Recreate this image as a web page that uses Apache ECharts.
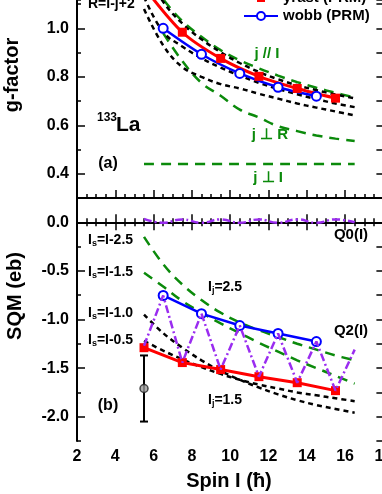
<!DOCTYPE html>
<html><head><meta charset="utf-8">
<script src="https://cdn.jsdelivr.net/npm/echarts@6/dist/echarts.min.js"></script>
<style>html,body{margin:0;padding:0;background:#fff}#c{width:382px;height:494px}</style>
</head><body><div id="c"></div>
<script>
// ---------- data ----------
const spins      = [5.5,6.5,7.5,8.5,9.5,10.5,11.5,12.5,13.5,14.5,15.5,16.5];
const spinsFrom65= [6.5,7.5,8.5,9.5,10.5,11.5,12.5,13.5,14.5,15.5,16.5];
const spinsOdd   = [5.5,7.5,9.5,11.5,13.5,15.5];
const spinsEven  = [6.5,8.5,10.5,12.5,14.5];
const xTickLabels = ['2','4','6','8','10','12','14','16','18'];

// (a) g-factor
const gYrast  = [1.17,0.984,0.876,0.802,0.752,0.712];
const gWobb   = [1.0,0.893,0.814,0.757,0.72];
const gJparI  = [1.23,1.12,1.03,0.965,0.91,0.868,0.835,0.805,0.778,0.755,0.734,0.715];
const gJperpR = [0.98,0.865,0.775,0.722,0.665,0.632,0.596,0.576,0.558,0.545,0.535];
const gJperpI = [0.44,0.44,0.44,0.44,0.44,0.44,0.44,0.44,0.44,0.44,0.44,0.44];
const gR2     = [1.25,1.11,1.02,0.955,0.902,0.857,0.82,0.79,0.765,0.745,0.727,0.711];
const gR1     = [1.13,0.985,0.925,0.877,0.838,0.805,0.775,0.75,0.728,0.708,0.69,0.675];
const gR0     = [1.08,0.93,0.84,0.80,0.77,0.752,0.73,0.71,0.69,0.673,0.657,0.641];

// (b) SQM
const sqmYrast = [-1.29,-1.443,-1.515,-1.588,-1.65,-1.732];
const sqmWobb  = [-0.753,-0.94,-1.062,-1.144,-1.227];
const sqmQ2    = [-1.27,-0.753,-1.443,-0.94,-1.515,-1.062,-1.588,-1.144,-1.65,-1.227,-1.732,-1.31];
const sqmQ0    = [0.035,-0.005,0.03,-0.005,0.03,-0.005,0.03,-0.005,0.03,-0.005,0.03,0.0];
const sqmIs25  = [-0.15,-0.43,-0.64,-0.80,-0.93,-1.03,-1.11,-1.18,-1.25,-1.31,-1.37,-1.42];
const sqmIs15  = [-0.52,-0.66,-0.81,-0.93,-1.04,-1.14,-1.24,-1.33,-1.42,-1.50,-1.58,-1.66];
const sqmIs10  = [-0.95,-1.14,-1.29,-1.42,-1.53,-1.62,-1.70,-1.77,-1.83,-1.88,-1.92,-1.96];
const sqmIs05  = [-1.22,-1.32,-1.41,-1.49,-1.56,-1.62,-1.67,-1.71,-1.75,-1.78,-1.81,-1.84];
const expSpin  = [5.5];
const expSQM   = [-1.71];
const expHi    = [-1.37];
const expLo    = [-2.05];

// ---------- helpers ----------
const FONT = '"Liberation Sans", Arial, sans-serif';
const pair = (xs, ys) => xs.map((x,i)=>[x, ys[i]]);
const GREEN = '#0b8a0b', RED = '#ff0000', BLUE = '#0000ff', PURPLE = '#9a2cf0';

function dashed(name, xs, ys, color, dash, xi, yi) {
  return {type:'line', name, xAxisIndex:xi, yAxisIndex:yi, data:pair(xs,ys), smooth:0.4,
    symbol:'none', lineStyle:{color, width:2.5, type:dash}, silent:true, z:2};
}

const xBase = {min:2, max:18, interval:2, splitLine:{show:false},
  axisLine:{lineStyle:{color:'#000', width:2}},
  axisTick:{inside:true, length:8, lineStyle:{color:'#000', width:1.5}},
  minorTick:{show:true, splitNumber:4, length:4, lineStyle:{color:'#000', width:1.5}},
  axisLabel:{show:false}};

function fmt1(step){ return v => (Math.abs(v/step - Math.round(v/step))<1e-6) ? v.toFixed(1) : ''; }

const option = {
  animation:false,
  backgroundColor:'#fff',
  grid:[
    {left:77, width:306.4, top:0, height:198, outerBoundsMode:'none', containLabel:false},
    {left:77, width:306.4, top:198, height:243, outerBoundsMode:'none', containLabel:false}
  ],
  legend:{
    data:['yrast (PRM)','wobb (PRM)'], orient:'vertical', left:243, top:-10, padding:0,
    itemWidth:34, itemHeight:10, itemGap:2,
    textStyle:{fontFamily:FONT, fontSize:15, fontWeight:'bold', color:'#000', lineHeight:16}
  },
  xAxis:[
    Object.assign({}, xBase, {gridIndex:0, position:'bottom'}),
    Object.assign({}, xBase, {gridIndex:1, position:'bottom',
      axisLabel:{show:true, margin:8, color:'#000', fontFamily:FONT, fontSize:16, fontWeight:'bold',
        formatter: v => xTickLabels[Math.round((v-2)/2)] }}),
    Object.assign({}, xBase, {gridIndex:1, position:'top'})
  ],
  yAxis:[
    {gridIndex:0, position:'left', min:0.3, max:1.117, minInterval:0.2, maxInterval:0.2,
      splitLine:{show:false}, axisLine:{show:true, lineStyle:{color:'#000', width:2}},
      axisTick:{inside:true, length:8, lineStyle:{color:'#000', width:1.5}},
      axisLabel:{margin:8, color:'#000', fontFamily:FONT, fontSize:16, fontWeight:'bold',
        showMinLabel:false, showMaxLabel:false, formatter: fmt1(0.2)}},
    {gridIndex:0, position:'left', min:0.3, max:1.117, interval:0.1,
      splitLine:{show:false}, axisLine:{show:false}, axisLabel:{show:false},
      axisTick:{inside:true, length:4, lineStyle:{color:'#000', width:1.5}}},
    {gridIndex:0, position:'right', min:0.3, max:1.117, interval:0.1,
      splitLine:{show:false}, axisLine:{show:true, lineStyle:{color:'#000', width:2}}, axisLabel:{show:false},
      axisTick:{inside:true, length:7, lineStyle:{color:'#000', width:1.5}}},
    {gridIndex:1, position:'left', min:-2.25, max:0.25, minInterval:0.5, maxInterval:0.5,
      splitLine:{show:false}, axisLine:{show:true, onZero:false, lineStyle:{color:'#000', width:2}},
      axisTick:{inside:true, length:8, lineStyle:{color:'#000', width:1.5}},
      axisLabel:{margin:8, color:'#000', fontFamily:FONT, fontSize:16, fontWeight:'bold',
        showMinLabel:false, showMaxLabel:false, formatter: fmt1(0.5)}},
    {gridIndex:1, position:'left', min:-2.25, max:0.25, interval:0.25,
      splitLine:{show:false}, axisLine:{show:false}, axisLabel:{show:false},
      axisTick:{inside:true, length:4, lineStyle:{color:'#000', width:1.5}}},
    {gridIndex:1, position:'right', min:-2.25, max:0.25, interval:0.25,
      splitLine:{show:false}, axisLine:{show:true, lineStyle:{color:'#000', width:2}}, axisLabel:{show:false},
      axisTick:{inside:true, length:7, lineStyle:{color:'#000', width:1.5}}}
  ],
  series:[
    dashed('j//I', spins, gJparI, GREEN, [10,7], 0, 0),
    dashed('jperpR', spinsFrom65, gJperpR, GREEN, [10,7], 0, 0),
    dashed('jperpI', spins, gJperpI, GREEN, [10,7], 0, 0),
    dashed('R2', spins, gR2, '#000', [5,4], 0, 0),
    dashed('R1', spins, gR1, '#000', [5,4], 0, 0),
    dashed('R0', spins, gR0, '#000', [5,4], 0, 0),
    {type:'line', name:'yrast (PRM)', xAxisIndex:0, yAxisIndex:0, data:pair(spinsOdd,gYrast), smooth:0.3,
      symbol:'rect', symbolSize:9, lineStyle:{color:RED, width:3}, itemStyle:{color:RED}, z:5},
    {type:'line', name:'wobb (PRM)', xAxisIndex:0, yAxisIndex:0, data:pair(spinsEven,gWobb), smooth:0.3,
      symbol:'circle', symbolSize:9, showAllSymbol:true, lineStyle:{color:BLUE, width:2.5},
      itemStyle:{color:'#fff', borderColor:BLUE, borderWidth:2}, z:5},

    dashed('Is25', spins, sqmIs25, GREEN, [10,7], 1, 3),
    dashed('Is15', spins, sqmIs15, GREEN, [10,7], 1, 3),
    dashed('Is10', spins, sqmIs10, '#000', [5,4], 1, 3),
    dashed('Is05', spins, sqmIs05, '#000', [5,4], 1, 3),
    {type:'line', name:'yrast SQM', xAxisIndex:1, yAxisIndex:3, data:pair(spinsOdd,sqmYrast),
      symbol:'rect', symbolSize:9, lineStyle:{color:RED, width:3}, itemStyle:{color:RED}, z:5},
    {type:'line', name:'wobb SQM', xAxisIndex:1, yAxisIndex:3, data:pair(spinsEven,sqmWobb),
      symbol:'circle', symbolSize:9, lineStyle:{color:BLUE, width:2.5},
      itemStyle:{color:'#fff', borderColor:BLUE, borderWidth:2}, z:5},
    {type:'line', name:'Q0', xAxisIndex:1, yAxisIndex:3, data:pair(spins,sqmQ0), smooth:0.5,
      symbol:'none', lineStyle:{color:PURPLE, width:2.5, type:[8,3,2,3]}, z:6},
    {type:'line', name:'Q2', xAxisIndex:1, yAxisIndex:3, data:pair(spins,sqmQ2),
      symbol:'none', lineStyle:{color:PURPLE, width:2.5, type:[8,3,2,3]}, z:6},
    {type:'custom', name:'err', xAxisIndex:1, yAxisIndex:3,
      data: expSpin.map((x,i)=>[x, expHi[i], expLo[i]]),
      encode:{x:0, y:[1,2]}, z:7,
      renderItem:(params, api) => {
        const x = api.value(0);
        const p1 = api.coord([x, api.value(1)]);
        const p2 = api.coord([x, api.value(2)]);
        const w = 4, st = {stroke:'#000', lineWidth:2};
        return {type:'group', children:[
          {type:'line', shape:{x1:p1[0],y1:p1[1],x2:p2[0],y2:p2[1]}, style:st},
          {type:'line', shape:{x1:p1[0]-w,y1:p1[1],x2:p1[0]+w,y2:p1[1]}, style:st},
          {type:'line', shape:{x1:p2[0]-w,y1:p2[1],x2:p2[0]+w,y2:p2[1]}, style:st}
        ]};
      }},
    {type:'scatter', name:'exp', xAxisIndex:1, yAxisIndex:3, data:pair(expSpin,expSQM),
      symbol:'circle', symbolSize:8, itemStyle:{color:'#9a9a9a', borderColor:'#222', borderWidth:1.5}, z:8}
  ],
  graphic:[]
};

function txt(x, y, text, size, color, align, extra) {
  return Object.assign({type:'text', x, y, z:100, silent:true,
    style:{text, fill:color||'#000', font:'bold '+size+'px '+FONT,
      align:align||'left', verticalAlign:'middle'}}, extra||{});
}
function sub(x, y, main, s, rest, align) {
  return {type:'text', x, y, z:100, silent:true,
    style:{text:'{a|'+main+'}{s|'+s+'}{a|'+rest+'}', align:align||'left', verticalAlign:'middle',
      rich:{a:{fontFamily:FONT, fontWeight:'bold', fontSize:14, lineHeight:16, fill:'#000'},
            s:{fontFamily:FONT, fontWeight:'bold', fontSize:9, lineHeight:9, verticalAlign:'bottom', fill:'#000'}}}};
}
option.graphic = [
  txt(88, 4, 'R=I-j+2', 14),
  txt(97, 118, '133', 12),
  txt(116, 125.5, 'La', 21),
  txt(108, 164, '(a)', 16, '#000', 'center'),
  txt(267, 54, 'j // I', 15, GREEN, 'center'),
  txt(270, 135, 'j \u22A5 R', 15, GREEN, 'center'),
  txt(268, 178, 'j \u22A5 I', 15, GREEN, 'center'),
  txt(351, 235, 'Q0(I)', 15, '#000', 'center'),
  txt(351, 331, 'Q2(I)', 15, '#000', 'center'),
  sub(88, 240, 'I', 's', '=I-2.5'),
  sub(88, 272, 'I', 's', '=I-1.5'),
  sub(88, 313, 'I', 's', '=I-1.0'),
  sub(88, 340, 'I', 's', '=I-0.5'),
  sub(208, 287, 'I', 'j', '=2.5'),
  sub(208, 400, 'I', 'j', '=1.5'),
  txt(108, 406, '(b)', 16, '#000', 'center'),
  txt(12, 75, 'g-factor', 20, '#000', 'center', {rotation:Math.PI/2}),
  txt(15, 296, 'SQM (eb)', 20, '#000', 'center', {rotation:Math.PI/2}),
  txt(229, 481, 'Spin I (\u0127)', 20, '#000', 'center')
];

const chart = echarts.init(document.getElementById('c'), null, {renderer:'canvas'});
chart.setOption(option);
</script>
</body></html>
